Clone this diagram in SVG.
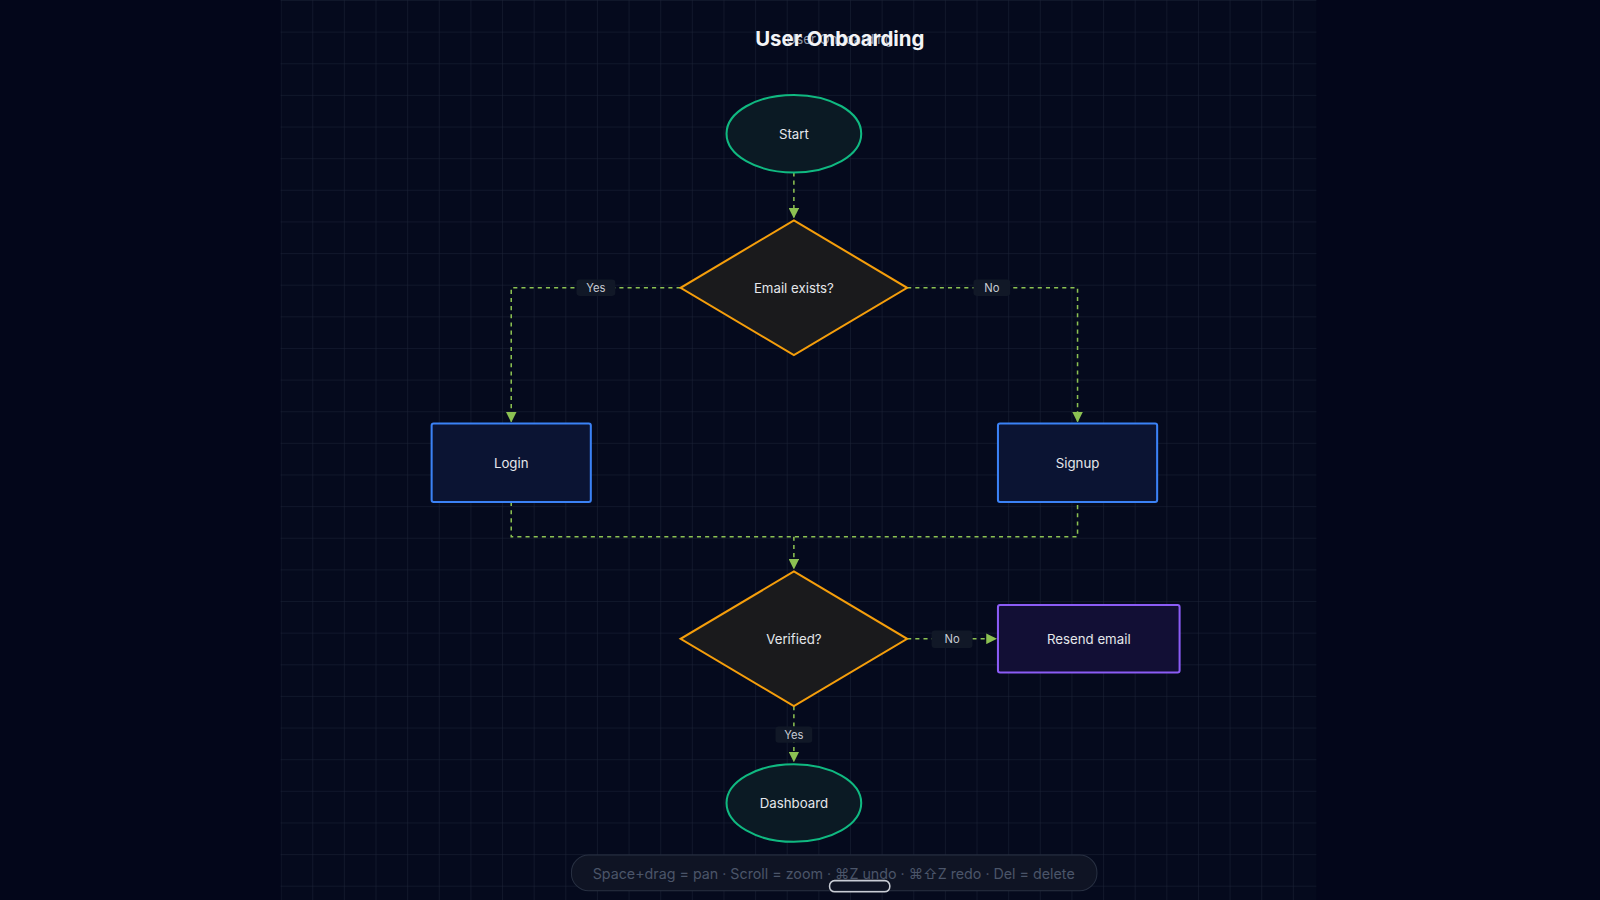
<svg xmlns="http://www.w3.org/2000/svg" width="1600" height="900" viewBox="0 0 1600 900">
<style>
text{font-family:Inter,"Noto Sans","Liberation Sans",sans-serif}
.lbl{fill:#e5e7eb;font-size:13px;text-anchor:middle;dominant-baseline:central}
.el{fill:#c8ccd4;font-size:11px;text-anchor:middle;dominant-baseline:central}
.pill{fill:#111827}
.c{fill:none;stroke:#8cc152;stroke-width:1.5;stroke-dasharray:4 4}
.term{fill:#0b1a24;stroke:#10b981;stroke-width:2}
.dec{fill:#1a1a1c;stroke:#f59e0b;stroke-width:2}
.proc{fill:#0b1433;stroke:#3b82f6;stroke-width:2}
</style>
<defs>
<pattern id="g" width="31" height="31" patternUnits="userSpaceOnUse" x="275" y="0">
<path d="M31 0H0V31" fill="none" stroke="#1c2337" stroke-width="1"/>
</pattern>
<marker id="a" viewBox="0 0 10 10" refX="9" refY="5" markerWidth="7" markerHeight="7" orient="auto"><path d="M0 0L10 5L0 10z" fill="#8cc152"/></marker>
</defs>
<rect width="1600" height="900" fill="#03061a"/>
<g transform="scale(1.020408)">
<rect x="275" y="0" width="1015" height="882" fill="#050a1d"/>
<rect x="275" y="0" width="1015" height="882" fill="url(#g)"/>
<text x="823" y="38" font-size="13" fill="#8b93a3" text-anchor="middle" dominant-baseline="central">User Onboarding</text>
<text x="823" y="38" font-size="20" font-weight="bold" fill="#f3f4f6" text-anchor="middle" dominant-baseline="central">User Onboarding</text>
<g id="connectors">
<path class="c" d="M778 169V213" marker-end="url(#a)"/>
<path class="c" d="M667 282H501V413" marker-end="url(#a)"/>
<path class="c" d="M889 282H1056V413" marker-end="url(#a)"/>
<path class="c" d="M501 492V526H1056V492M778 526V557" marker-end="url(#a)"/>
<path class="c" d="M889 626H976" marker-end="url(#a)"/>
<path class="c" d="M778 692V746" marker-end="url(#a)"/>
<rect class="pill" x="565" y="274" width="38" height="16" rx="3"/><text class="el" x="584" y="282">Yes</text>
<rect class="pill" x="954" y="274" width="36" height="16" rx="3"/><text class="el" x="972" y="282">No</text>
<rect class="pill" x="913" y="618" width="40" height="17" rx="3"/><text class="el" x="933" y="626">No</text>
<rect class="pill" x="760" y="712" width="36" height="16" rx="3"/><text class="el" x="778" y="720">Yes</text>
</g>
<g id="start"><ellipse class="term" cx="778" cy="131" rx="66" ry="38"/><text class="lbl" x="778" y="131">Start</text></g>
<g id="email"><path class="dec" d="M778 216L889 282L778 348L667 282z"/><text class="lbl" x="778" y="282">Email exists?</text></g>
<g id="login"><rect class="proc" x="423" y="415" width="156" height="77" rx="2"/><text class="lbl" x="501" y="454">Login</text></g>
<g id="signup"><rect class="proc" x="978" y="415" width="156" height="77" rx="2"/><text class="lbl" x="1056" y="454">Signup</text></g>
<g id="verified"><path class="dec" d="M778 560L889 626L778 692L667 626z"/><text class="lbl" x="778" y="626">Verified?</text></g>
<g id="resend"><rect x="978" y="593" width="178" height="66" rx="2" fill="#120f35" stroke="#8b5cf6" stroke-width="2"/><text class="lbl" x="1067" y="626">Resend email</text></g>
<g id="dashboard"><ellipse class="term" cx="778" cy="787" rx="66" ry="38"/><text class="lbl" x="778" y="787">Dashboard</text></g>
<rect x="560" y="838" width="515" height="35" rx="17" fill="#0f1424" stroke="#283042"/>
<text x="817" y="856" font-size="14" fill="#4b5569" text-anchor="middle" dominant-baseline="central">Space+drag = pan · Scroll = zoom · ⌘Z undo · ⌘⇧Z redo · Del = delete</text>
<rect x="813" y="863" width="59" height="11" rx="5" fill="none" stroke="#c8ccd4" stroke-width="1.5"/>
</g>
</svg>
